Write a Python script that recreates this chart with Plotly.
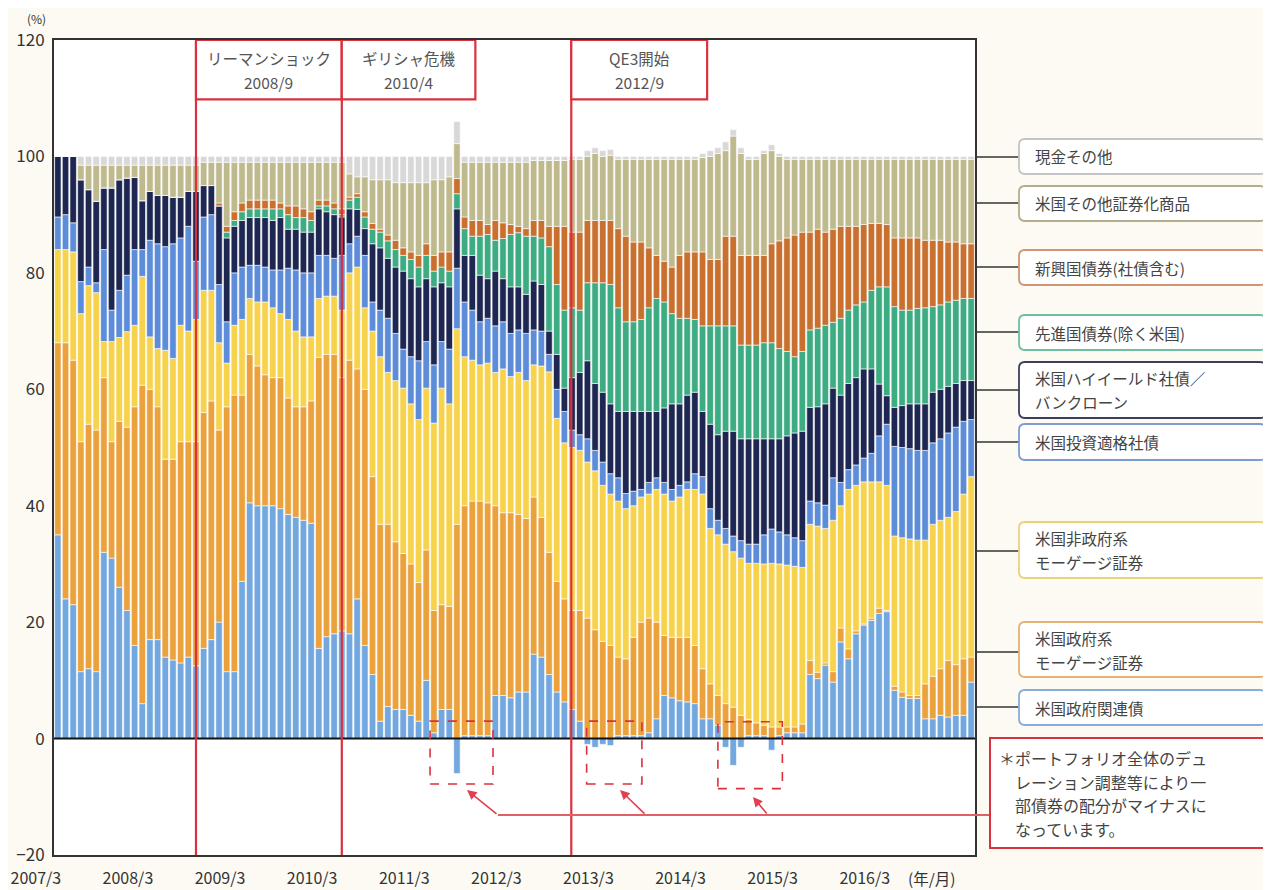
import plotly.graph_objects as go

# ---------------- data (monthly, 2007/3 .. 2017/2), % of portfolio ----------------
months = list(range(120))
tick_vals = [0, 12, 24, 36, 48, 60, 72, 84, 96, 108]
tick_text = ["2007/3", "2008/3", "2009/3", "2010/3", "2011/3",
             "2012/3", "2013/3", "2014/3", "2015/3", "2016/3"]

gov_related = [35, 24, 23, 11.5, 12, 11.5, 32, 31, 26, 22,
               16, 6, 17, 17, 14, 13.5, 13, 14, 12.5, 15.5,
               17, 20, 11.5, 11.5, 27, 40.5, 40, 40, 40, 39.5,
               38.5, 38, 37.5, 37, 15.5, 17.5, 18, 18.5, 18, 24,
               16, 11, 3, 5.5, 5, 5, 4, 3, 10, 1,
               5, 5, -6, 0.5, 0.5, 0.5, 0.5, 7.4, 7.4, 7,
               8, 8, 14.5, 14, 11, 8, 6.3, 5, 3, -1,
               -1.5, -1, -1.2, 0.5, 0.5, 0.5, 0.5, 1, 3.4, 7.4,
               7, 6.5, 6.3, 6, 3.4, 3.4, 2.3, -1.5, -4.6, -1.5,
               0.5, 0.5, 0.5, -2, 0.5, 1, 1, 1, 11, 10.3,
               12.6, 9.7, 16.6, 13.7, 18, 19.5, 20.3, 21.5, 21.8, 8.3,
               7.1, 6.9, 6.9, 3.4, 3.4, 4, 3.7, 4, 4, 9.7]

agency_mbs = [33, 44, 42, 39.5, 42, 41.5, 30, 20, 28.5, 31.5,
              41, 54.7, 43, 40, 34, 34.5, 38, 37, 38.5, 40.5,
              41, 33, 45.5, 47.5, 32, 25.5, 24, 22.5, 22, 22.5,
              20, 19, 19.5, 21, 50, 48.5, 48, 43.5, 47, 39.5,
              44, 34, 33.8, 31.3, 28.8, 26.8, 26, 23.8, 22.4, 21,
              18, 17.7, 36.8, 39.5, 40.3, 40.3, 40, 32.6, 31.4, 31.8,
              30.5, 29.8, 27, 24, 21, 19, 17.7, 17, 19, 20.7,
              18.7, 16.7, 16, 13.5, 13.2, 16.9, 19.5, 19.7, 16.6, 10.3,
              10.4, 10.9, 11.1, 10, 8.6, 6, 5.1, 6, 5.4, 4,
              2.8, 2.2, 1.8, 2, 1.5, 1, 1, 1.5, 2.4, 1.1,
              0.4, 1.8, 2.4, 1.7, 0.5, 0.2, 0.4, 0.9, 0.2, 0.7,
              0.9, 0.5, 0.5, 6, 7.3, 8, 9.7, 8.7, 9.7, 4.3]

non_agency_mbs = [16, 16, 18.6, 22, 23.8, 23.6, 6.2, 17.2, 14.4, 16.4,
                  14, 18.7, 9, 10, 18.7, 17.3, 20, 19, 21, 21,
                  19, 15, 7.5, 12, 13, 9.6, 11, 12.5, 12, 11,
                  13.5, 13, 12, 11, 10.1, 10, 10, 11.6, 15, 17.5,
                  14, 25, 28.8, 26.1, 27.7, 28.4, 27.5, 28, 27.8, 32.2,
                  37.2, 34.8, 33.6, 25.6, 24.2, 23.4, 24, 22.9, 24.7, 23.4,
                  24.4, 23.7, 22.7, 26, 31, 28, 26.8, 28, 27.5, 26.8,
                  27.3, 26.8, 26, 26.8, 25.8, 22.6, 21.5, 21.3, 22.8, 24.3,
                  23.4, 24.1, 25.4, 26.8, 30, 26.7, 27.6, 27.4, 26.7, 27,
                  26.8, 27.4, 27.7, 28.1, 28, 27.8, 27.6, 26.9, 23.4, 25.1,
                  23.1, 26, 21, 27.4, 25, 24.4, 23.4, 21.7, 21.5, 25.8,
                  26.5, 26.9, 26.7, 24.7, 26.1, 25.5, 24.6, 26.3, 28.3, 31]

inv_grade = [5.6, 6, 5, 5.5, 3.2, 1.7, 15.8, 5.4, 8.1, 9.7,
             13, 4.6, 16.6, 18, 17.8, 19.7, 15, 18, 10, 12.6,
             13, 10, 7.1, 9, 9, 5.7, 6.3, 6, 6.5, 7.5,
             8.8, 10.5, 11, 11, 7.4, 7, 6.5, 9.4, 5, 5.3,
             9, 5, 8, 9.3, 8.1, 6.7, 8.1, 10.1, 8, 10,
             8, 9.4, 10.4, 9.4, 8.6, 7.4, 7.7, 8, 8.1, 7.4,
             7.3, 8.1, 6, 6, 3, 5, 5.4, 3, 2.7, 4,
             3.5, 4, 3.5, 4, 2.6, 2.5, 1.3, 2, 2, 2,
             2, 2, 1.3, 2.7, 3, 3.4, 2.5, 2.7, 2.7, 3,
             3.3, 3.3, 5, 5.9, 5.5, 5.2, 4.9, 4.6, 4, 4,
             4, 7.3, 4, 3.4, 3.5, 4.1, 4.9, 7.9, 10.5, 15.4,
             15.5, 15.5, 15.4, 15.4, 14, 14, 14.5, 14.5, 12.5, 9.8]

high_yield = [10.4, 10, 11.4, 17.5, 13.3, 14, 10.6, 21, 19, 16.7,
              12.4, 8.4, 8.4, 8.3, 8.8, 8, 7, 6, 12, 5.4,
              5, 13.5, 14.4, 8, 8, 8.2, 8.2, 8.5, 8.5, 9,
              6.7, 7, 7, 7, 8, 7.5, 7.5, 6.6, 6, 4.6,
              4.6, 10, 10.7, 10.3, 11.4, 13.4, 13.4, 12.7, 10.8, 13.4,
              10.1, 10.7, 10.2, 8, 9.4, 8, 6.8, 9.4, 7.4, 8,
              7.4, 6.7, 8.4, 8, 4, 6, 4, 9, 10.7, 13.4,
              11.5, 12, 12, 11.4, 14.1, 13.7, 13.4, 12.2, 11.4, 12.8,
              14.7, 14, 14.9, 14, 11.2, 14.5, 14.7, 16.7, 18, 17.5,
              18.1, 18.1, 16.5, 15.5, 16, 17, 18, 18.8, 16.1, 16.5,
              17.4, 15.4, 15, 14.8, 15, 15.3, 14.5, 8.9, 4.9, 6.7,
              7.2, 7.7, 8, 8, 8.7, 8.5, 8, 7.5, 7, 6.7]

developed_ex_us = [0, 0, 0, 0, 0, 0, 0, 0, 0, 0,
                   0, 0, 0, 0, 0, 0, 0, 0, 0, 0,
                   0, 0, 1, 1, 1.5, 1.5, 1.5, 1.5, 2, 1.5,
                   2.5, 2, 2.5, 2, 0.5, 1, 1, 0.4, 1.5, 2.1,
                   2, 2.5, 2.7, 3, 3, 2.7, 3.3, 3.4, 4, 2.7,
                   2.7, 2.7, 2.6, 4.6, 3.3, 6.7, 7.6, 5.3, 6.9, 9,
                   9.3, 10, 7.7, 8, 14.5, 12, 13.4, 12, 10.7, 13.4,
                   17.3, 18.8, 20.5, 17.8, 15.4, 15.4, 15.8, 17.8, 19.4, 18.2,
                   15.5, 14.7, 13.2, 12.5, 14.7, 16.9, 18.7, 18.1, 18.1, 16.1,
                   16.1, 16.1, 16.5, 16.5, 15.5, 14.5, 13.1, 13.7, 13.3, 13.5,
                   13.5, 11.3, 13.2, 12.6, 12.5, 11.5, 13.5, 16.7, 18.7, 17.3,
                   16.4, 16.1, 16.4, 16.5, 14.7, 14.5, 14.5, 14.3, 14.1, 14.1]

emerging = [0, 0, 0, 0, 0, 0, 0, 0, 0, 0,
            0, 0, 0, 0, 0, 0, 0, 0, 0, 0,
            0, 0.5, 1, 1.5, 1.5, 1.5, 1.5, 1.5, 1.5, 1,
            1.5, 2, 1.5, 1.5, 1, 1, 1, 1, 0.5, 0.6,
            0.9, 1, 0.5, 1, 1.6, 1.3, 1.3, 2, 2, 2.7,
            2.6, 3.3, 2.6, 2, 2.7, 2.7, 1.7, 3.4, 2.7, 1.7,
            1.1, 1.3, 2.7, 3, 3.5, 10, 14.4, 13, 13.4, 10.7,
            10.7, 10.7, 11, 13.6, 14.7, 13.7, 13.3, 10.3, 7.4, 7,
            8, 10.8, 11.4, 11.6, 12.7, 11.4, 11.4, 15.4, 15.4, 15.4,
            15.4, 15.4, 15, 17, 18.5, 19.5, 20.9, 20.5, 16.8, 17,
            16, 16, 15.8, 14.4, 13.5, 13.3, 11.5, 10.9, 10.7, 11.8,
            12.4, 12.4, 12.1, 11.6, 11.4, 11.1, 10.3, 10, 9.4, 9.4]

other_securitized = [0, 0, 0, 2.5, 4.2, 6.2, 3.9, 3.9, 2.5, 2.2,
                     2.1, 6.1, 4.5, 5.2, 5.2, 5.5, 5.5, 4.5, 4.5, 4,
                     4, 7, 11, 8.5, 7, 6.5, 6.5, 6.5, 6.5, 7,
                     7.5, 7.5, 8, 8.5, 6.5, 6.5, 7, 8, 4, 2.9,
                     6, 7.5, 8.5, 9.5, 9.9, 11.2, 11.9, 12.5, 10.5, 13,
                     12.4, 12.9, 6, 9.4, 10, 10, 10.7, 10, 10.4, 10.7,
                     11, 11.4, 10.3, 10.3, 11.3, 11.3, 11.3, 12.5, 12.5, 11,
                     11.5, 11, 11.2, 11.9, 13.2, 14.2, 14.2, 15.2, 16.5, 17.5,
                     18.5, 16.5, 15.9, 15.9, 16.2, 17.7, 18.2, 14.7, 17.2, 17.5,
                     16.5, 16.5, 17.5, 16, 14.5, 13.5, 13, 12.5, 12.5, 12,
                     12.5, 12, 11.5, 11.5, 11.5, 11.2, 11, 11, 11.2, 13.5,
                     13.5, 13.5, 13.5, 13.9, 13.9, 13.9, 14.2, 14.2, 14.5, 14.5]

cash_other = [0, 0, 0, 1.5, 1.5, 1.5, 1.5, 1.5, 1.5, 1.5,
              1.5, 1.5, 1.5, 1.5, 1.5, 1.5, 1.5, 1.5, 1.5, 1,
              1, 1, 1, 1, 1, 1, 1, 1, 1, 1,
              1, 1, 1, 1, 1, 1, 1, 1, 3, 3.5,
              3.5, 4, 4, 4, 4.5, 4.5, 4.5, 4.5, 4.5, 4,
              4, 3.5, 3.8, 1, 1, 1, 1, 1, 1, 1,
              1, 1, 0.7, 0.7, 0.7, 0.7, 0.7, 0.5, 0.5, 1,
              1, 1, 1, 0.5, 0.5, 0.5, 0.5, 0.5, 0.5, 0.5,
              0.5, 0.5, 0.5, 0.5, 0.7, 1, 1, 1.5, 1.1, 1,
              0.5, 0.5, 0.5, 1, 0.5, 0.5, 0.5, 0.5, 0.5, 0.5,
              0.5, 0.5, 0.5, 0.5, 0.5, 0.5, 0.5, 0.5, 0.5, 0.5,
              0.5, 0.5, 0.5, 0.5, 0.5, 0.5, 0.5, 0.5, 0.5, 0.5]

series_names = ["米国政府関連債", "米国政府系モーゲージ証券", "米国非政府系モーゲージ証券",
                "米国投資適格社債", "米国ハイイールド社債／バンクローン", "先進国債券(除く米国)",
                "新興国債券(社債含む)", "米国その他証券化商品", "現金その他"]
series_values = [gov_related, agency_mbs, non_agency_mbs, inv_grade, high_yield,
                 developed_ex_us, emerging, other_securitized, cash_other]
series_colors = ["#72A8DF", "#EBA23C", "#F7D24C", "#5D8DD8", "#1E2752",
                 "#3EAC82", "#C9702F", "#BFBA8E", "#D8D8D8"]

events = [(18, 37, ["リーマンショック", "2008/9"]),
          (37, 54.4, ["ギリシャ危機", "2010/4"]),
          (66.9, 84.6, ["QE3開始", "2012/9"])]

note_lines = ["＊ポートフォリオ全体のデュ", "　レーション調整等により一",
              "　部債券の配分がマイナスに", "　なっています。"]

# ---------------- figure ----------------
RED = "#D8323E"
FONT = "Noto Sans CJK JP, Noto Sans, sans-serif"

fig = go.Figure()
for name, vals, col in zip(series_names, series_values, series_colors):
    fig.add_trace(go.Bar(x=months, y=vals, name=name,
                         marker=dict(color=col, line=dict(color="white", width=0.6))))

# page pixel -> paper helpers (plot area on page: x 54..975, y 40..855)
def px2x(px):
    return (px - 54) / 921.0

def py2y(py):
    return (855 - py) / 815.0

def rrect(x0, y0, x1, y1, r=6):
    a, b, c, d = px2x(x0), py2y(y0), px2x(x1), py2y(y1)
    rx, ry = r / 921.0, r / 815.0
    return (f"M {a+rx},{b} L {c-rx},{b} Q {c},{b} {c},{b-ry} L {c},{d+ry} "
            f"Q {c},{d} {c-rx},{d} L {a+rx},{d} Q {a},{d} {a},{d+ry} "
            f"L {a},{b-ry} Q {a},{b} {a+rx},{b} Z")

shapes = []
annotations = []

def text_at(px, py, text, size, color="#444", xanchor="center"):
    annotations.append(dict(xref="paper", yref="paper", x=px2x(px), y=py2y(py), text=text,
                            xanchor=xanchor, yanchor="middle", showarrow=False,
                            font=dict(size=size, color=color, family=FONT)))

# zero line
shapes.append(dict(type="line", xref="x", yref="y", x0=-0.5, x1=119.5, y0=0, y1=0,
                   line=dict(color="#111", width=2), layer="above"))

# event lines and boxes
for x0, x1, lines in events:
    shapes.append(dict(type="line", xref="x", yref="y", x0=x0, x1=x0, y0=-20, y1=120,
                       line=dict(color=RED, width=2.2), layer="above"))
    shapes.append(dict(type="rect", xref="x", yref="y", x0=x0, x1=x1, y0=109.8, y1=120,
                       line=dict(color=RED, width=2.2), fillcolor="white", layer="above"))
    cx = 54 + ((x0 + x1) / 2 + 0.5) * 921.0 / 120
    text_at(cx, 58, lines[0], 15.5, "#555")
    text_at(cx, 82, lines[1], 15.5, "#555")

# dashed boxes around negative allocations
for bx0, bx1, by0, by1 in [(48.5, 56.7, -7.8, 3.0), (68.9, 76.1, -7.8, 3.0), (86.0, 94.4, -8.6, 2.9)]:
    shapes.append(dict(type="rect", xref="x", yref="y", x0=bx0, x1=bx1, y0=by0, y1=by1,
                       line=dict(color=RED, width=1.6, dash="dash"), layer="above"))

# red guide line to note
shapes.append(dict(type="line", xref="paper", yref="paper", x0=px2x(498), x1=px2x(992),
                   y0=py2y(815), y1=py2y(815), line=dict(color="#E06068", width=2)))
for hx, hy, tx, ty in [(467, 790, 498, 815), (620, 790, 646, 815), (753, 797, 768, 815)]:
    annotations.append(dict(xref="paper", yref="paper", x=px2x(hx), y=py2y(hy), text="",
                            showarrow=True, ax=tx - hx, ay=ty - hy, arrowhead=2,
                            arrowsize=1.2, arrowwidth=1.6, arrowcolor="#E04050", standoff=0))

# note box
shapes.append(dict(type="rect", xref="paper", yref="paper", x0=px2x(990), x1=px2x(1267),
                   y0=py2y(848), y1=py2y(738), line=dict(color=RED, width=2), fillcolor="white"))
for i, line in enumerate(note_lines):
    text_at(997, 758 + i * 23.5, line, 16, "#444", xanchor="left")

# legend boxes (right side)
legend_items = [
    (["現金その他"], 139, 174, 157, "#C4C4C4"),
    (["米国その他証券化商品"], 186, 221, 203, "#B2AE8C"),
    (["新興国債券(社債含む)"], 250, 285, 267, "#CF9575"),
    (["先進国債券(除く米国)"], 315, 350, 332, "#6DBFA0"),
    (["米国ハイイールド社債／", "バンクローン"], 362, 418, 390, "#3A3F5C"),
    (["米国投資適格社債"], 424, 460, 442, "#7C9CD0"),
    (["米国非政府系", "モーゲージ証券"], 522, 578, 551, "#E8D27A"),
    (["米国政府系", "モーゲージ証券"], 622, 677, 652, "#E3B274"),
    (["米国政府関連債"], 690, 725, 707, "#86AED6"),
]
for lines, y0, y1, yc, bc in legend_items:
    shapes.append(dict(type="line", xref="paper", yref="paper", x0=px2x(975), x1=px2x(1019),
                       y0=py2y(yc), y1=py2y(yc), line=dict(color="#333", width=1.6)))
    shapes.append(dict(type="path", xref="paper", yref="paper", path=rrect(1019, y0, 1266, y1),
                       line=dict(color=bc, width=1.8), fillcolor="white"))
    mid = (y0 + y1) / 2
    if len(lines) == 1:
        text_at(1033, mid, lines[0], 15.5, xanchor="left")
    else:
        text_at(1033, mid - 12, lines[0], 15.5, xanchor="left")
        text_at(1033, mid + 12, lines[1], 15.5, xanchor="left")

# unit labels
text_at(36, 19, "(%)", 12, "#333")
text_at(932, 878, "(年/月)", 15.5, "#333")

# The page body adds an 8 px offset, so the figure is 8 px smaller and margins shifted.
fig.update_layout(
    width=1263, height=882,
    margin=dict(l=46, r=296, t=32, b=35, autoexpand=False),
    paper_bgcolor="#FCFAF3", plot_bgcolor="white",
    barmode="relative", bargap=0.16, showlegend=False,
    font=dict(family=FONT, color="#333"),
    xaxis=dict(range=[-0.5, 119.5], tickvals=tick_vals, ticktext=tick_text,
               ticklabelshift=-22, ticklabelstandoff=8, ticks="", automargin=False,
               showgrid=False, zeroline=False, showline=True, linecolor="#333",
               linewidth=2, mirror=True, tickfont=dict(size=16, color="#333")),
    yaxis=dict(range=[-20, 120], tickvals=list(range(-20, 121, 20)), ticks="",
               automargin=False, ticklabelstandoff=4,
               showgrid=False, zeroline=False, showline=True, linecolor="#333",
               linewidth=2, mirror=True, tickfont=dict(size=17, color="#333")),
    shapes=shapes, annotations=annotations,
)

fig.write_html("out.html")
